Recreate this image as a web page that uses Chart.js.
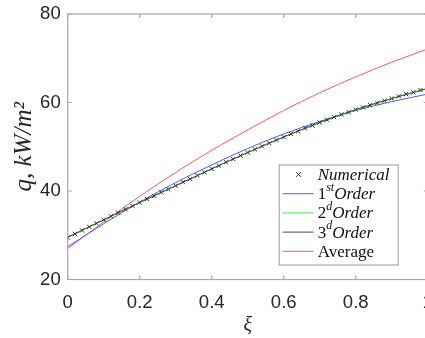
<!DOCTYPE html>
<html>
<head>
<meta charset="utf-8">
<script src="https://cdn.jsdelivr.net/npm/chart.js@4"></script>
<style>
  html, body { margin: 0; padding: 0; overflow: hidden; background: #fff; }
  #wrap { width: 440px; height: 338px; }
</style>
</head>
<body>
<div id="wrap"><canvas id="myChart"></canvas></div>
<script>
// xi positions of the fitted curves
const xi = [0, 0.1, 0.2, 0.3, 0.4, 0.5, 0.6, 0.7, 0.8, 0.9, 1];
const firstOrder = [27.4, 32.6, 37.5, 41.9, 45.9, 49.6, 52.9, 55.7, 58.2, 60.2, 61.9];
const secondOrder = [29.6, 33.5, 37.4, 41.2, 45.0, 48.7, 52.2, 55.4, 58.3, 60.9, 63.1];
const thirdOrder = [29.5, 33.5, 37.4, 41.2, 45.0, 48.7, 52.2, 55.5, 58.4, 60.9, 63.2];
const average = [27.0, 33.0, 38.8, 44.2, 49.2, 53.8, 58.2, 62.2, 65.8, 69.1, 72.1];

// numerical solution (markers)
const xiNum = [0, 0.02, 0.04, 0.06, 0.08, 0.1, 0.12, 0.14, 0.16, 0.18,
  0.2, 0.22, 0.24, 0.26, 0.28, 0.3, 0.32, 0.34, 0.36, 0.38,
  0.4, 0.42, 0.44, 0.46, 0.48, 0.5, 0.52, 0.54, 0.56, 0.58,
  0.6, 0.62, 0.64, 0.66, 0.68, 0.7, 0.72, 0.74, 0.76, 0.78,
  0.8, 0.82, 0.84, 0.86, 0.88, 0.9, 0.92, 0.94, 0.96, 0.98, 1];
const numerical = [29.5, 30.3, 31.1, 31.9, 32.7, 33.5, 34.3, 35.1, 35.9, 36.6,
  37.4, 38.2, 38.9, 39.7, 40.4, 41.2, 42.0, 42.7, 43.5, 44.2,
  45.0, 45.7, 46.5, 47.2, 48.0, 48.7, 49.4, 50.1, 50.8, 51.5,
  52.2, 52.9, 53.5, 54.2, 54.8, 55.5, 56.1, 56.7, 57.3, 57.8,
  58.4, 58.9, 59.4, 59.9, 60.4, 60.9, 61.4, 61.9, 62.3, 62.8, 63.2];

const seriesNames = ['Numerical', '1^{st}Order', '2^{d}Order', '3^{d}Order', 'Average'];
const xTicks = [0, 0.2, 0.4, 0.6, 0.8, 1];
const yTicks = [20, 40, 60, 80];

const toPts = (xs, ys) => xs.map((x, i) => ({ x: x, y: ys[i] }));

const serif = "'Liberation Serif', 'DejaVu Serif', serif";
const sans = "'Liberation Sans', Arial, sans-serif";

// draws "1^{st}Order" style labels, digits upright, letters italic
function drawRich(ctx, str, x, y, italicAll) {
  const parts = str.split(/(\^\{[^}]*\})/).filter(s => s.length);
  parts.forEach(p => {
    let sup = false, txt = p;
    if (p.startsWith('^{')) { sup = true; txt = p.slice(2, -1); }
    const size = sup ? 12 : 17;
    const dy = sup ? -7 : 0;
    const runs = txt.match(/\d+|\D+/g);
    runs.forEach(r => {
      const it = italicAll && !/^\d+$/.test(r);
      ctx.font = (it ? 'italic ' : '') + size + 'px ' + serif;
      ctx.fillText(r, x, y + dy);
      x += ctx.measureText(r).width;
    });
  });
}

const boxPlugin = {
  id: 'boxPlugin',
  afterDatasetsDraw(chart) {
    const { ctx, chartArea: a, scales } = chart;
    ctx.save();
    ctx.strokeStyle = '#a8a8a8';
    ctx.lineWidth = 1.2;
    ctx.strokeRect(a.left, a.top, a.right - a.left, a.bottom - a.top);
    ctx.beginPath();
    xTicks.forEach(v => {
      const px = scales.x.getPixelForValue(v);
      ctx.moveTo(px, a.bottom); ctx.lineTo(px, a.bottom - 4);
      ctx.moveTo(px, a.top); ctx.lineTo(px, a.top + 4);
    });
    yTicks.forEach(v => {
      const py = scales.y.getPixelForValue(v);
      ctx.moveTo(a.left, py); ctx.lineTo(a.left + 4, py);
      ctx.moveTo(a.right, py); ctx.lineTo(a.right - 4, py);
    });
    ctx.stroke();

    // legend box in the lower right of the axes
    const lx = a.left + 211, ly = a.bottom - 115, lw = 119, lh = 100;
    ctx.fillStyle = '#fff';
    ctx.fillRect(lx, ly, lw, lh);
    ctx.strokeStyle = '#9a9a9a';
    ctx.lineWidth = 1;
    ctx.strokeRect(lx + 0.5, ly + 0.5, lw, lh);
    chart.data.datasets.forEach((ds, i) => {
      const cy = ly + 10 + i * 19.2;
      if (ds.showLine === false) {
        const mx = lx + 20;
        ctx.strokeStyle = ds.borderColor;
        ctx.beginPath();
        ctx.moveTo(mx - 2.5, cy - 2.5); ctx.lineTo(mx + 2.5, cy + 2.5);
        ctx.moveTo(mx - 2.5, cy + 2.5); ctx.lineTo(mx + 2.5, cy - 2.5);
        ctx.stroke();
      } else {
        ctx.strokeStyle = ds.borderColor;
        ctx.beginPath();
        ctx.moveTo(lx + 4, cy); ctx.lineTo(lx + 35, cy);
        ctx.stroke();
      }
      ctx.fillStyle = '#111';
      ctx.textBaseline = 'middle';
      drawRich(ctx, seriesNames[i], lx + 39, cy + 1, seriesNames[i] !== 'Average');
    });
    ctx.restore();
  }
};

const lineDs = (label, ys, color, order) => ({
  label: label,
  data: toPts(xi, ys),
  borderColor: color,
  borderWidth: 1,
  pointRadius: 0,
  cubicInterpolationMode: 'monotone',
  fill: false,
  order: order
});

new Chart(document.getElementById('myChart').getContext('2d'), {
  type: 'line',
  data: {
    datasets: [
      {
        label: seriesNames[0],
        data: toPts(xiNum, numerical),
        showLine: false,
        pointStyle: 'crossRot',
        pointRadius: 3,
        pointBorderWidth: 1,
        borderColor: '#333',
        backgroundColor: '#333',
        order: 0
      },
      lineDs(seriesNames[1], firstOrder, '#5555ff', 3),
      lineDs(seriesNames[2], secondOrder, '#55dd55', 2),
      lineDs(seriesNames[3], thirdOrder, '#3a5a3a', 1),
      lineDs(seriesNames[4], average, '#ff5a5a', 4)
    ]
  },
  options: {
    responsive: true,
    maintainAspectRatio: false,
    animation: false,
    layout: { padding: { left: 0, right: 12.3, top: 14, bottom: 0 } },
    plugins: {
      legend: { display: false },
      tooltip: { enabled: false }
    },
    scales: {
      x: {
        type: 'linear',
        min: 0, max: 1,
        grid: { display: false, drawTicks: false },
        border: { display: false },
        ticks: {
          stepSize: 0.2,
          padding: 12,
          color: '#262626',
          font: { family: sans, size: 18.5 },
          maxRotation: 0,
          callback: v => String(+v.toFixed(2))
        },
        title: {
          display: true,
          text: 'ξ',
          color: '#262626',
          padding: 0,
          font: { family: serif, size: 20, style: 'italic' }
        },
        afterFit(scale) {
          scale.height = 58.5;
          scale.paddingLeft = 0;
          scale.paddingRight = 0;
        }
      },
      y: {
        type: 'linear',
        min: 20, max: 80,
        grid: { display: false, drawTicks: false },
        border: { display: false },
        ticks: {
          stepSize: 20,
          padding: 7,
          color: '#262626',
          font: { family: sans, size: 18.5 }
        },
        title: {
          display: true,
          text: 'q, kW/m²',
          color: '#262626',
          padding: { top: 9, bottom: 0 },
          font: { family: serif, size: 25, style: 'italic' }
        },
        afterFit(scale) {
          scale.width = 67.7;
          scale.paddingTop = 0;
          scale.paddingBottom = 0;
        }
      }
    }
  },
  plugins: [boxPlugin]
});
</script>
</body>
</html>
